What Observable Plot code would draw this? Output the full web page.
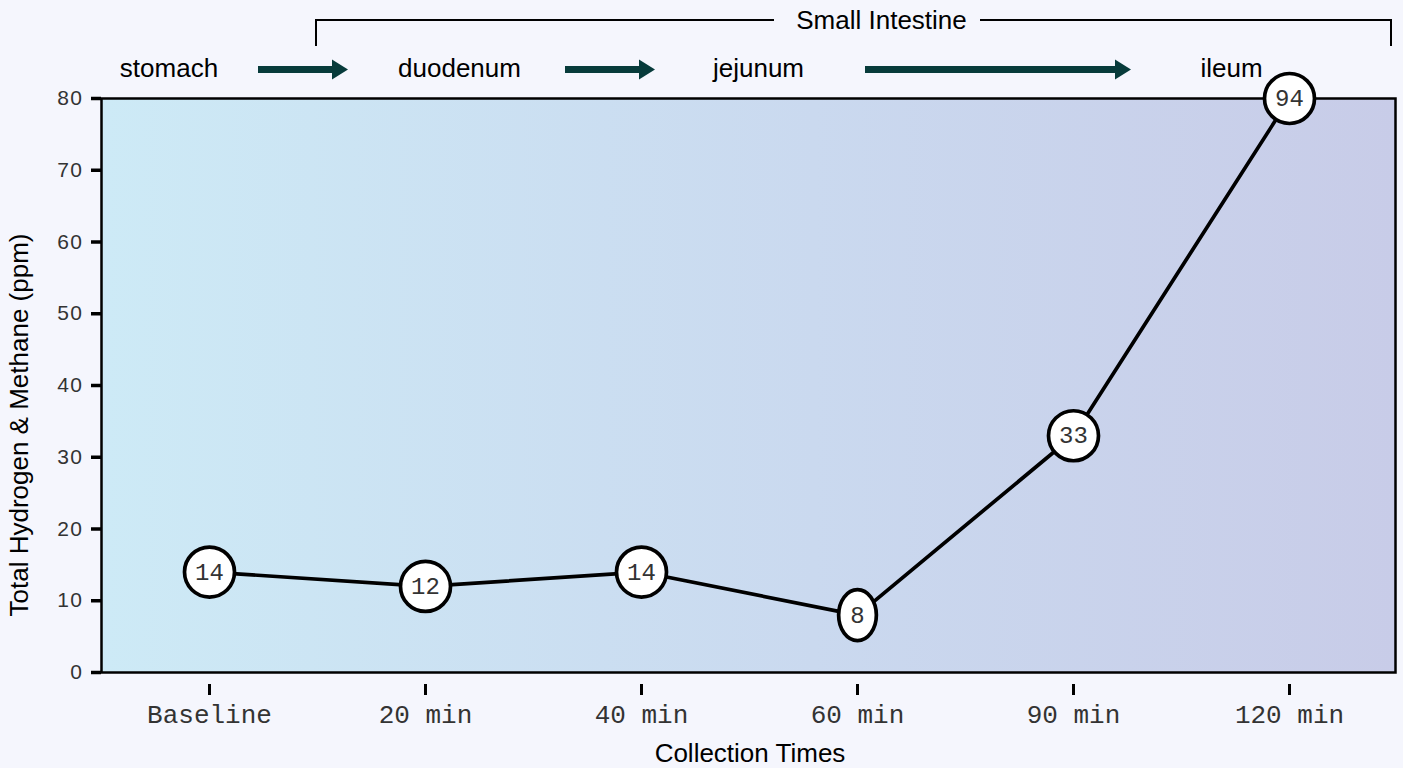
<!DOCTYPE html>
<html><head><meta charset="utf-8">
<script src="https://cdn.jsdelivr.net/npm/d3@7"></script>
<script src="https://cdn.jsdelivr.net/npm/@observablehq/plot@0.6"></script>
<style>
html,body{margin:0;padding:0;background:#f5f6fd;}
#chart svg{display:block;}
</style></head><body><div id="chart"></div>
<script>
const categories = ["Baseline","20 min","40 min","60 min","90 min","120 min"];
const values = [14, 12, 14, 8, 33, 94];
const yTicks = [0,10,20,30,40,50,60,70,80];
const regions = ["stomach","duodenum","jejunum","ileum"];
const groupLabel = "Small Intestine";
const xTitle = "Collection Times";
const yTitle = "Total Hydrogen & Methane (ppm)";

const data = categories.map((c, i) => ({time: c, value: values[i], label: String(values[i])}));

const ellipse = {
  draw(ctx, size) {
    const r = Math.sqrt(size / Math.PI), rx = r * 0.74, ry = r, k = 0.5523;
    ctx.moveTo(rx, 0);
    ctx.bezierCurveTo(rx, ry * k, rx * k, ry, 0, ry);
    ctx.bezierCurveTo(-rx * k, ry, -rx, ry * k, -rx, 0);
    ctx.bezierCurveTo(-rx, -ry * k, -rx * k, -ry, 0, -ry);
    ctx.bezierCurveTo(rx * k, -ry, rx, -ry * k, rx, 0);
    ctx.closePath();
  }
};

const gradientDefs = () => {
  const defs = d3.create("svg:defs");
  const g = defs.append("linearGradient").attr("id", "bgGrad").attr("x1", 0).attr("x2", 1).attr("y1", 0).attr("y2", 0);
  g.append("stop").attr("offset", "0%").attr("stop-color", "#cdeaf6");
  g.append("stop").attr("offset", "55%").attr("stop-color", "#cad9ef");
  g.append("stop").attr("offset", "100%").attr("stop-color", "#c8cce8");
  return defs.node();
};

const sans = "Liberation Sans, Arial, sans-serif";
const mono = "Liberation Mono, Courier New, monospace";

const plot = Plot.plot({
  width: 1403,
  height: 768,
  marginTop: 98,
  marginBottom: 96,
  marginLeft: 101,
  marginRight: 8,
  style: {background: "transparent", overflow: "visible"},
  x: {type: "point", domain: categories, range: [207, 1291], padding: 0},
  y: {domain: [0, 80], clamp: true},
  marks: [
    gradientDefs,
    Plot.frame({fill: "url(#bgGrad)", stroke: "black", strokeWidth: 2.5}),
    Plot.line(data, {x: "time", y: "value", stroke: "black", strokeWidth: 3.7}),
    Plot.dot(data, {filter: d => d.label.length > 1, x: "time", y: "value", r: 25, fill: "white", stroke: "black", strokeWidth: 3.7}),
    Plot.dot(data, {filter: d => d.label.length === 1, x: "time", y: "value", r: 25.5, symbol: ellipse, fill: "white", stroke: "black", strokeWidth: 3.7}),
    Plot.text(data, {x: "time", y: "value", text: "label", fontFamily: mono, fontSize: 24, fill: "#333"}),
    Plot.axisY({ticks: yTicks, tickSize: 10, strokeWidth: 3.5, tickPadding: 8, fontSize: 21, fontFamily: sans, fill: "#333", label: null}),
    Plot.axisX({tickSize: 11, strokeWidth: 3, fill: "none", dy: 12, label: null}),
    Plot.axisX({tickSize: 0, tickPadding: 32, fontSize: 26, fontFamily: mono, fill: "#333", label: null})
  ]
});

const svg = d3.select(plot);
svg.selectAll('[aria-label="y-axis tick label"] text').attr("letter-spacing", 1.5).attr("font-size", 21);
const ann = svg.append("g");
// axis titles
ann.append("text").attr("x", 750).attr("y", 762).attr("text-anchor", "middle")
  .attr("font-family", sans).attr("font-size", 26).attr("fill", "black").text(xTitle);
ann.append("text").attr("transform", "translate(28,425) rotate(-90)").attr("text-anchor", "middle")
  .attr("font-family", sans).attr("font-size", 26).attr("fill", "black").text(yTitle);
// region labels
const regionX = [169, 459.5, 758.5, 1231.5];
regions.forEach((r, i) => {
  ann.append("text").attr("x", regionX[i]).attr("y", 77).attr("text-anchor", "middle")
    .attr("font-family", sans).attr("font-size", 26).attr("fill", "black").text(r);
});
// arrows
const arrows = [[258, 348], [565, 655], [865, 1131]];
arrows.forEach(([a, b]) => {
  const y = 69.5, h = 3.5, hl = 16, hh = 10;
  ann.append("path").attr("fill", "#073b3b")
    .attr("d", `M${a},${y - h}H${b - hl}V${y - hh}L${b},${y}L${b - hl},${y + hh}V${y + h}H${a}Z`);
});
// bracket
ann.append("path").attr("fill", "none").attr("stroke", "black").attr("stroke-width", 2)
  .attr("d", "M316,46V20H774M980,20H1391V46");
ann.append("text").attr("x", 881.5).attr("y", 29).attr("text-anchor", "middle")
  .attr("font-family", sans).attr("font-size", 26).attr("fill", "black").text(groupLabel);

document.getElementById("chart").appendChild(plot);
</script>
</body></html>
